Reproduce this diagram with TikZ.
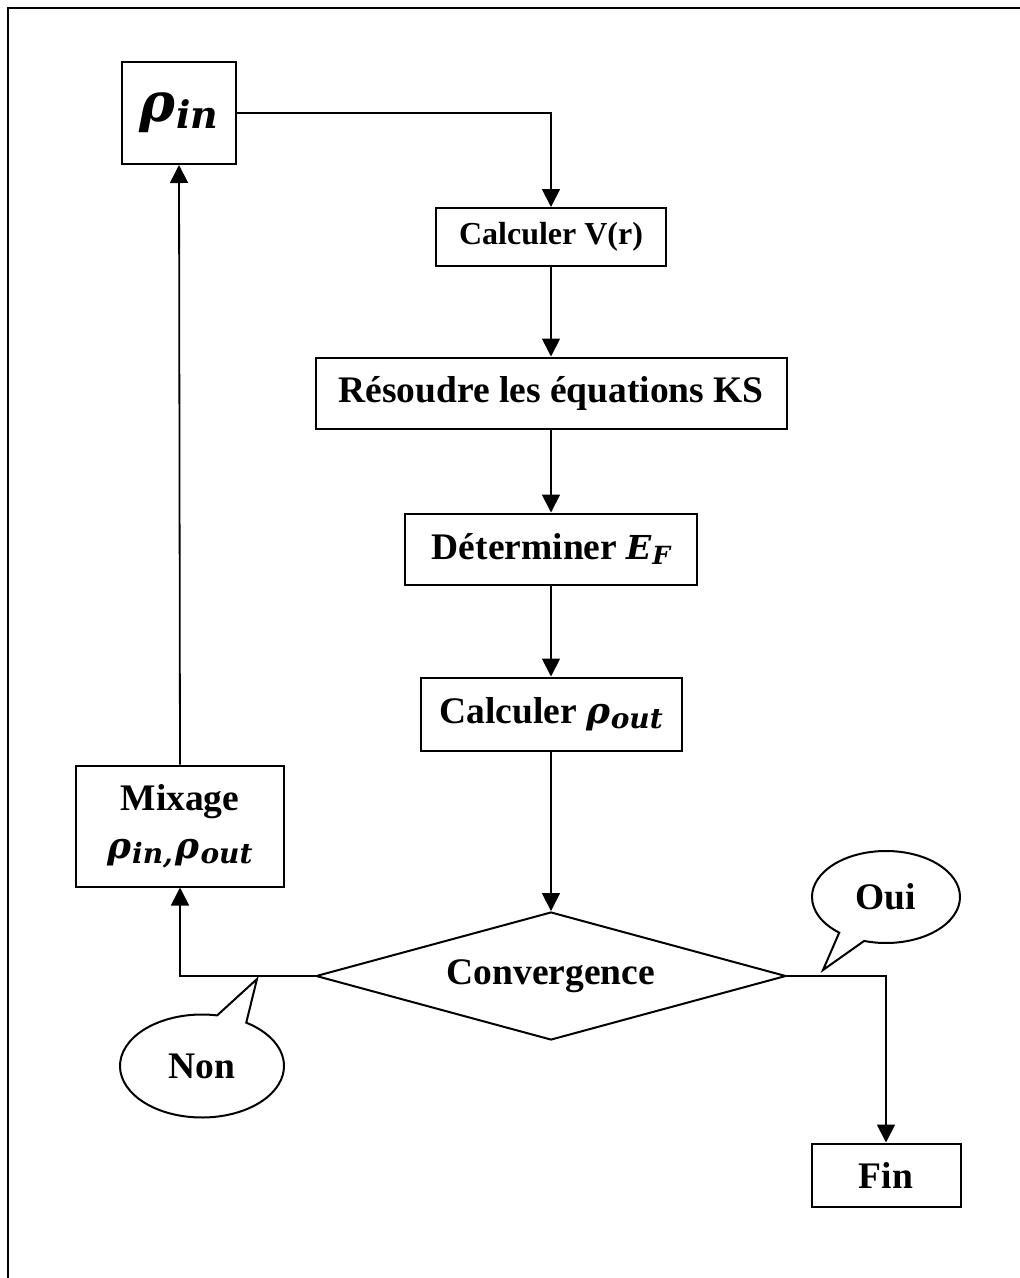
\documentclass[tikz,border=0pt]{standalone}
\usepackage{fontspec}
\setmainfont{Liberation Serif}
\newfontfamily\mfont{DejaVu Serif}
\usetikzlibrary{shapes.geometric,shapes.callouts,arrows.meta}
\newcommand\rhox[4]{{\fontsize{#1}{#1}\selectfont\mfont\bfseries\itshape ρ\kern.02em\raisebox{#4}{\fontsize{#2}{#2}\selectfont #3}}}
\newcommand\efx{{\mfont\bfseries\itshape\fontsize{33}{33}\selectfont E\kern.02em\raisebox{-5pt}{\fontsize{25}{25}\selectfont F}}}
\begin{document}
\begin{tikzpicture}[x=1pt,y=-1pt,
  box/.style={draw,line width=2pt,inner sep=0pt,font=\fontsize{37.5}{37.5}\selectfont\bfseries},
  arr/.style={line width=1.8pt,-{Triangle[length=18pt,width=18pt]}},
  bubble/.style={draw,line width=2pt,ellipse callout,callout pointer arc=22,inner sep=0pt,font=\fontsize{37.5}{37.5}\selectfont\bfseries}]
\useasboundingbox (0,0) rectangle (1020,1278);
\draw[line width=2.6pt] (8,1278) -- (8,8) -- (1020,8);
\node[box,minimum width=114pt,minimum height=102pt] (rin) at (179,113) {\rhox{54}{38}{in}{-7pt}};
\node[box,minimum width=230pt,minimum height=58pt,font=\fontsize{32}{32}\selectfont\bfseries] (cv) at (551,237) {Calculer V(r)};
\node[box,minimum width=471pt,minimum height=71pt] (rs) at (551,393) {Résoudre les équations KS};
\node[box,minimum width=292pt,minimum height=71pt] (de) at (551,549) {Déterminer \efx};
\node[box,minimum width=261pt,minimum height=73pt] (ca) at (551,714) {Calculer \rhox{36}{28}{out}{-5pt}};
\node[draw,line width=2pt,diamond,aspect=3.67,inner sep=0pt,minimum width=470pt,minimum height=128pt,font=\fontsize{37.5}{37.5}\selectfont\bfseries] (co) at (551,976) {Convergence};
\node[box,minimum width=208pt,minimum height=121pt,align=center,font=\fontsize{37.5}{48}\selectfont\bfseries] (mix) at (180,826) {Mixage\\\rhox{36}{28}{in,}{-5pt}\kern3pt\rhox{36}{28}{out}{-5pt}};
\node[box,minimum width=149pt,minimum height=63pt] (fin) at (886,1175) {Fin};
\coordinate (ouitip) at (823,970);
\coordinate (nontip) at (257,979);
\node[bubble,minimum width=148pt,minimum height=92pt,callout absolute pointer={(ouitip)}] (oui) at (886,897) {Oui};
\node[bubble,minimum width=164pt,minimum height=103pt,callout absolute pointer={(nontip)}] (non) at (202,1066) {Non};
\draw[arr] (rin.east) -| (cv.north);
\draw[arr] (cv.south) -- (rs.north);
\draw[arr] (rs.south) -- (de.north);
\draw[arr] (de.south) -- (ca.north);
\draw[arr] (ca.south) -- (co.north);
\draw[arr] (co.west) -| (mix.south);
\draw[arr] (mix.north) -- (rin.south);
\draw[arr] (co.east) -| (fin.north);
\end{tikzpicture}
\end{document}
